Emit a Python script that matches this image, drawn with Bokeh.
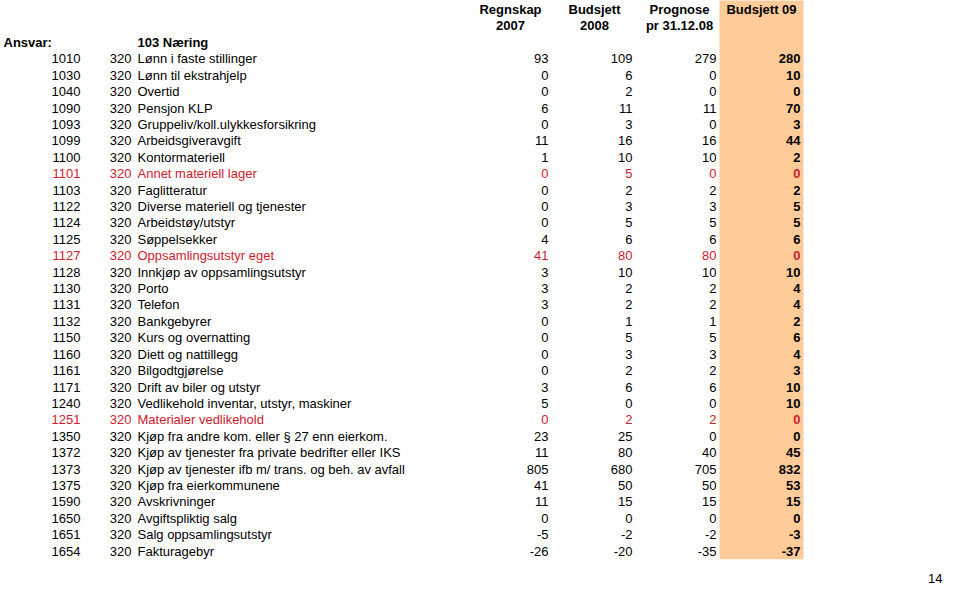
from bokeh.plotting import figure
from bokeh.models import ColumnDataSource, Range1d
from bokeh.embed import file_html
from bokeh.resources import INLINE
from bokeh.core.properties import value

# ---------------- data ----------------
header_line1 = ["Regnskap", "Budsjett", "Prognose", "Budsjett 09"]
header_line2 = ["2007", "2008", "pr 31.12.08", ""]
ansvar_label = "Ansvar:"
ansvar_name = "103 Næring"
page_number = "14"

accounts = ["1010", "1030", "1040", "1090", "1093", "1099", "1100", "1101", "1103", "1122",
            "1124", "1125", "1127", "1128", "1130", "1131", "1132", "1150", "1160", "1161",
            "1171", "1240", "1251", "1350", "1372", "1373", "1375", "1590", "1650", "1651",
            "1654"]
funksjon = ["320"] * len(accounts)
descriptions = ["Lønn i faste stillinger", "Lønn til ekstrahjelp", "Overtid", "Pensjon KLP",
                "Gruppeliv/koll.ulykkesforsikring", "Arbeidsgiveravgift", "Kontormateriell",
                "Annet materiell lager", "Faglitteratur", "Diverse materiell og tjenester",
                "Arbeidstøy/utstyr", "Søppelsekker", "Oppsamlingsutstyr eget",
                "Innkjøp av oppsamlingsutstyr", "Porto", "Telefon", "Bankgebyrer",
                "Kurs og overnatting", "Diett og nattillegg", "Bilgodtgjørelse",
                "Drift av biler og utstyr", "Vedlikehold inventar, utstyr, maskiner",
                "Materialer vedlikehold", "Kjøp fra andre kom. eller § 27 enn eierkom.",
                "Kjøp av tjenester fra private bedrifter eller IKS",
                "Kjøp av tjenester ifb m/ trans. og beh. av avfall", "Kjøp fra eierkommunene",
                "Avskrivninger", "Avgiftspliktig salg", "Salg oppsamlingsutstyr", "Fakturagebyr"]
regnskap_2007 = [93, 0, 0, 6, 0, 11, 1, 0, 0, 0, 0, 4, 41, 3, 3, 3, 0, 0, 0, 0, 3, 5, 0, 23,
                 11, 805, 41, 11, 0, -5, -26]
budsjett_2008 = [109, 6, 2, 11, 3, 16, 10, 5, 2, 3, 5, 6, 80, 10, 2, 2, 1, 5, 3, 2, 6, 0, 2,
                 25, 80, 680, 50, 15, 0, -2, -20]
prognose_2008 = [279, 0, 0, 11, 0, 16, 10, 0, 2, 3, 5, 6, 80, 10, 2, 2, 1, 5, 3, 2, 6, 0, 2,
                 0, 40, 705, 50, 15, 0, -2, -35]
budsjett_2009 = [280, 10, 0, 70, 3, 44, 2, 0, 2, 5, 5, 6, 0, 10, 4, 4, 2, 6, 4, 3, 10, 10, 0,
                 0, 45, 832, 53, 15, 0, -3, -37]
highlighted_accounts = ["1101", "1127", "1251"]

# ---------------- layout / style ----------------
FONT = value("Liberation Sans")
SIZE = "13px"
BLACK = "#000000"
RED = "#d0202e"
ORANGE = "#ffcc99"

W, H = 944, 588
X0, Y0 = 0, 0
ROW0_PX, ROW_PX = 58.3, 16.41   # picture y of first row, row pitch
y_top = (Y0 - ROW0_PX) / ROW_PX
y_bot = (Y0 + H - ROW0_PX) / ROW_PX

X_ANSVAR_L = 3
X_ACC_R = 80
X_FUN_R = 131
X_DESC_L = 137
X_COLS_R = [548, 632, 716, 800]
X_HEAD_C = [510, 594, 679, 761]
BAND_L, BAND_R = 719, 803
PAGE_NO_X = X0 + W - 2
PAGE_NO_Y = (Y0 + H - 10 - ROW0_PX) / ROW_PX

p = figure(width=W, height=H, output_backend="svg", toolbar_location=None,
           x_range=Range1d(X0, X0 + W), y_range=Range1d(y_bot, y_top),
           min_border=0)
p.axis.visible = False
p.grid.visible = False
p.outline_line_color = None
p.background_fill_color = "white"

n = len(accounts)
rows = list(range(n))
colors = [RED if a in highlighted_accounts else BLACK for a in accounts]

# orange band behind "Budsjett 09"
p.quad(left=[BAND_L], right=[BAND_R], top=[y_top - 1], bottom=[n - 0.5],
       fill_color=ORANGE, line_color=None)

src = ColumnDataSource(dict(
    y=rows, acc=accounts, fun=funksjon, desc=descriptions,
    c1=[str(v) for v in regnskap_2007], c2=[str(v) for v in budsjett_2008],
    c3=[str(v) for v in prognose_2008], c4=[str(v) for v in budsjett_2009],
    color=colors,
))

common = dict(text_font=FONT, text_font_size=SIZE, text_baseline="middle")

p.text(x=X_ACC_R, y="y", text="acc", text_align="right", text_color="color", source=src, **common)
p.text(x=X_FUN_R, y="y", text="fun", text_align="right", text_color="color", source=src, **common)
p.text(x=X_DESC_L, y="y", text="desc", text_align="left", text_color="color", source=src, **common)
for key, xr in zip(["c1", "c2", "c3"], X_COLS_R[:3]):
    p.text(x=xr, y="y", text=key, text_align="right", text_color="color", source=src, **common)
p.text(x=X_COLS_R[3], y="y", text="c4", text_align="right", text_color="color",
       text_font_style="bold", source=src, **common)

# headers
hsrc = ColumnDataSource(dict(x=X_HEAD_C, l1=header_line1, l2=header_line2,
                             y1=[-3] * 4, y2=[-2] * 4))
p.text(x="x", y="y1", text="l1", text_align="center", text_font_style="bold",
       text_color=BLACK, source=hsrc, **common)
p.text(x="x", y="y2", text="l2", text_align="center", text_font_style="bold",
       text_color=BLACK, source=hsrc, **common)

# Ansvar row
p.text(x=[X_ANSVAR_L], y=[-1], text=[ansvar_label], text_align="left", text_font_style="bold",
       text_color=BLACK, **common)
p.text(x=[X_DESC_L], y=[-1], text=[ansvar_name], text_align="left", text_font_style="bold",
       text_color=BLACK, **common)

# page number
p.text(x=[PAGE_NO_X], y=[PAGE_NO_Y], text=[page_number], text_align="right",
       text_color=BLACK, **common)

open("out.html", "w").write(file_html(p, INLINE))
